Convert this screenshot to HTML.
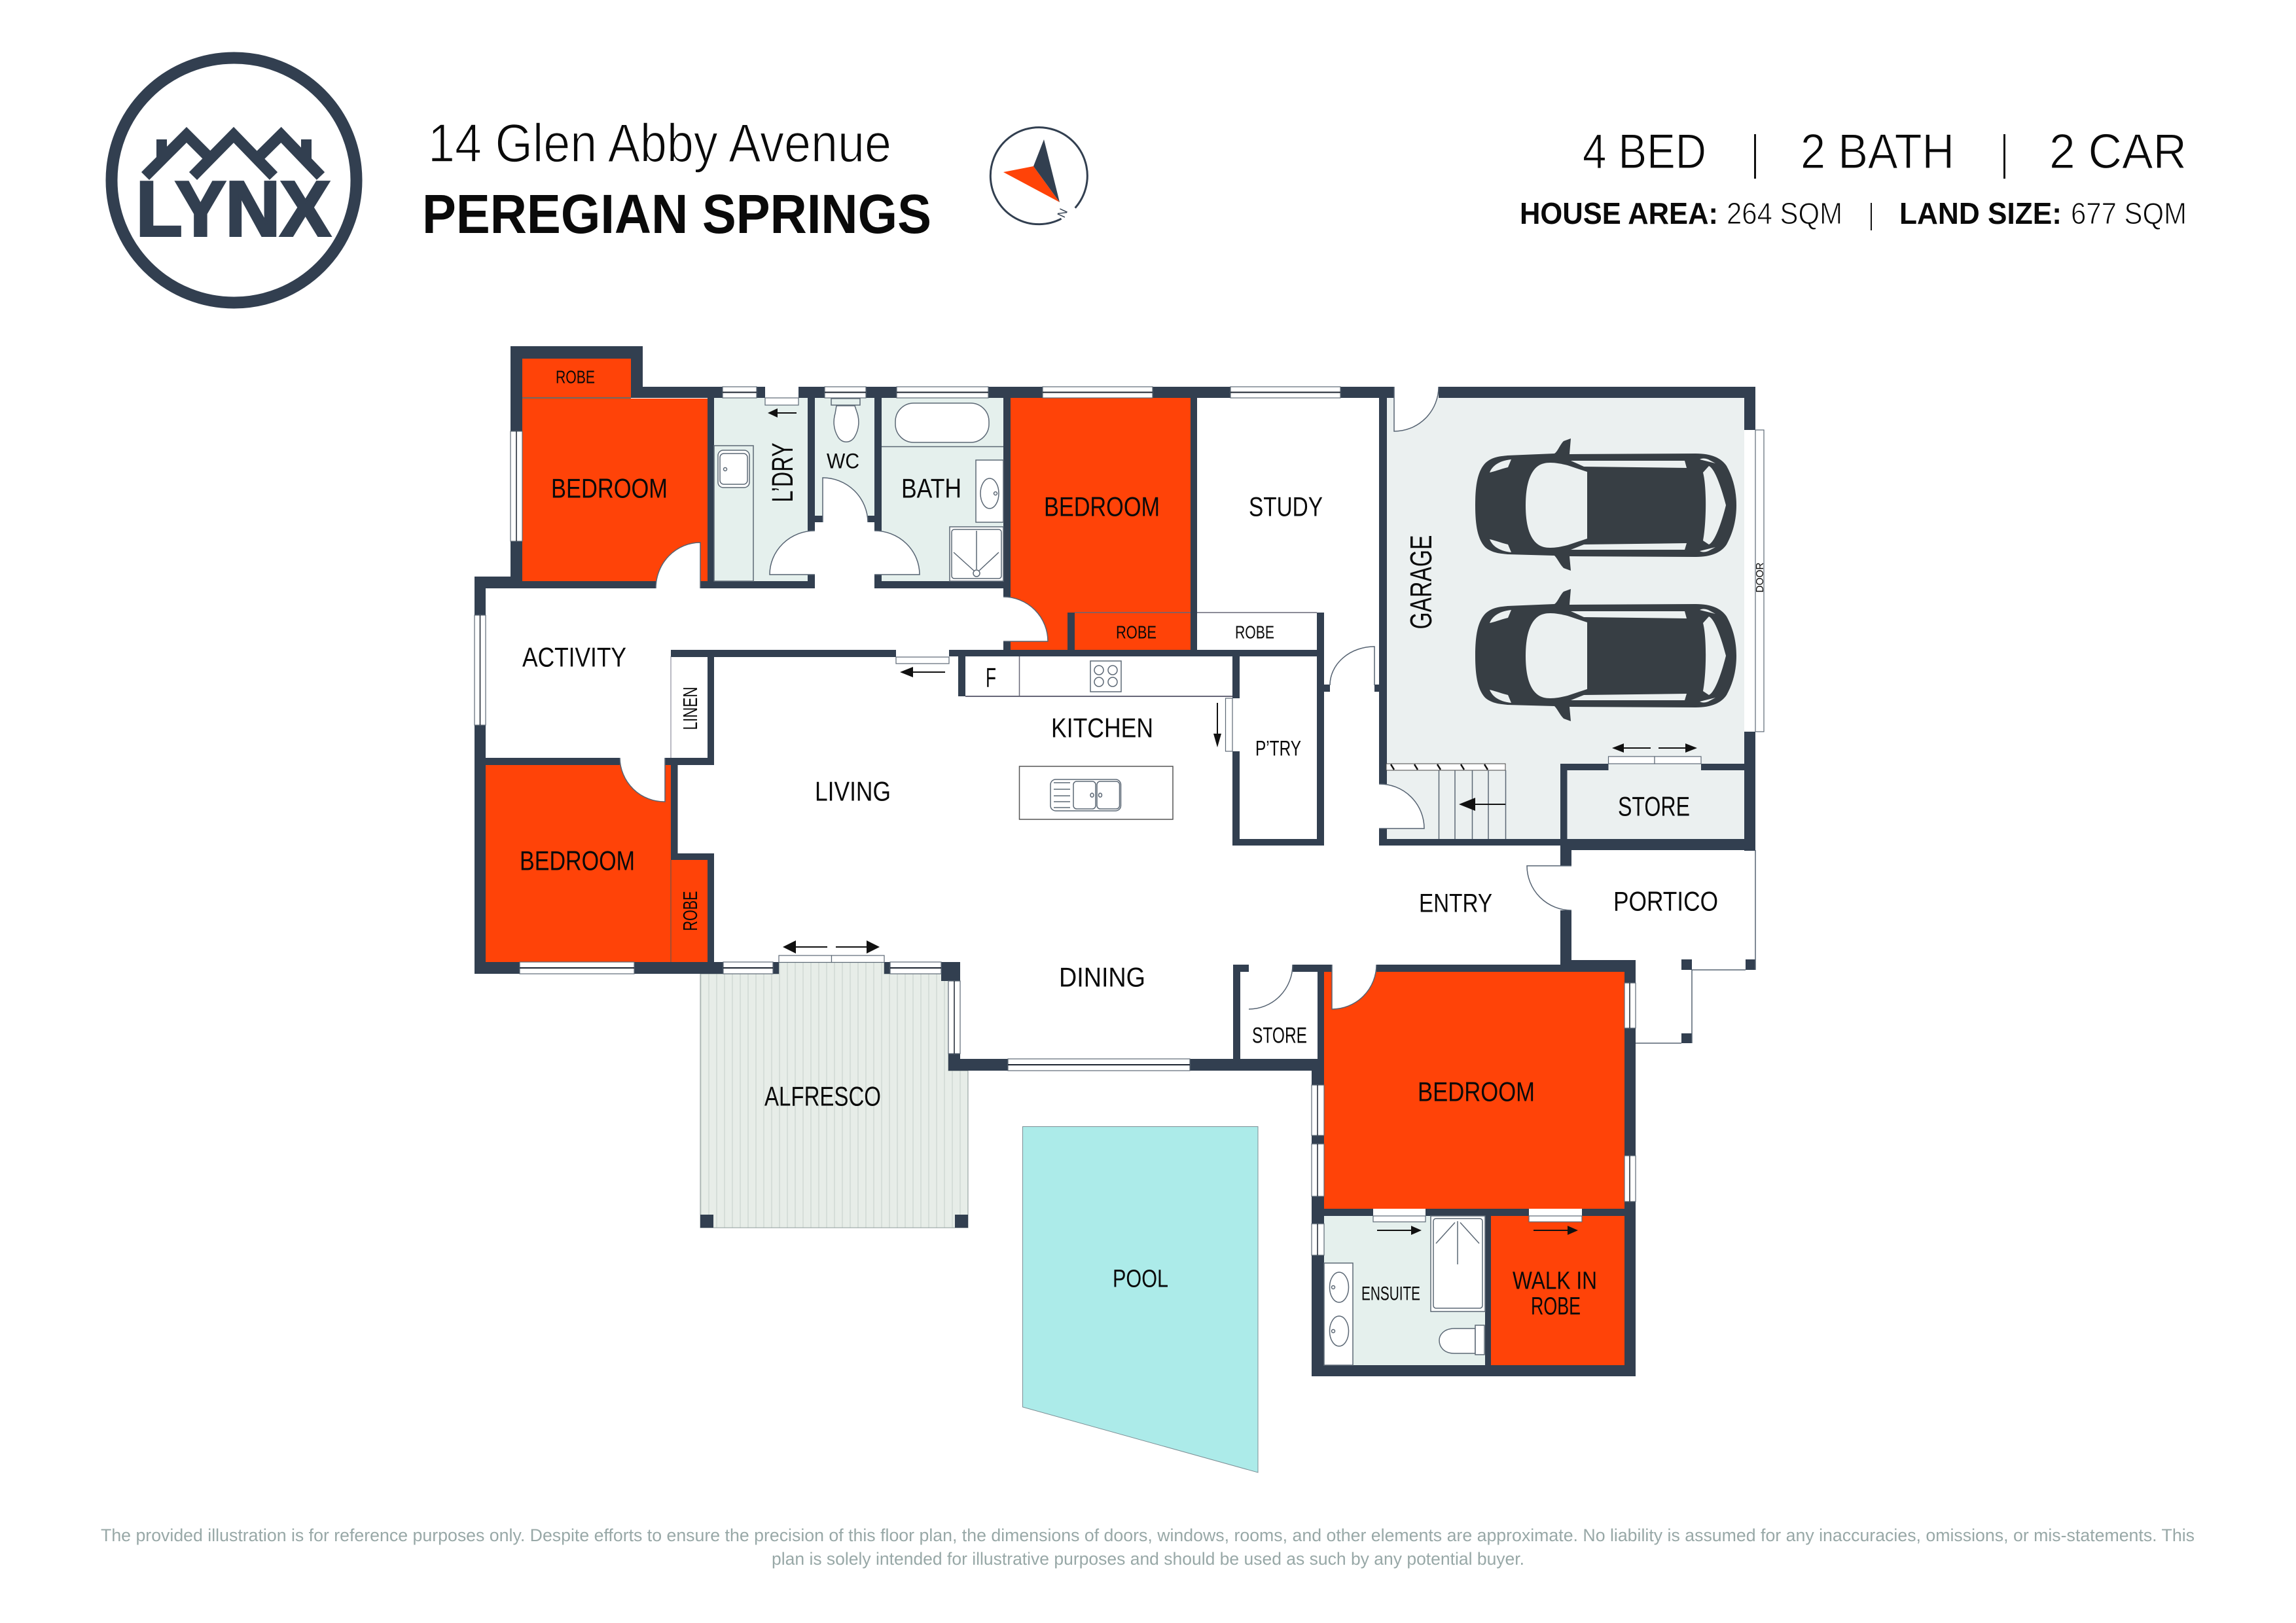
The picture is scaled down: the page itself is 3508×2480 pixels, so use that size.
<!DOCTYPE html>
<html lang="en"><head><meta charset="utf-8"><title>14 Glen Abby Avenue floor plan</title>
<style>
html,body{margin:0;padding:0;background:#fff}
svg{display:block}
text{font-family:"Liberation Sans",sans-serif;fill:#0a0a0a}
.w{fill:#323f50}
.o{fill:#ff4308}
.win{fill:#fff;stroke:#5c6875;stroke-width:1.2}
.c{stroke:#1c2430;stroke-width:2;fill:none}
.d{fill:#fff;stroke:#566372;stroke-width:1.5}
.t{fill:none;stroke:#5c6875;stroke-width:1.5}
.tw{fill:#fff;stroke:#5c6875;stroke-width:1.5}
.a{stroke:#111;stroke-width:2;fill:none}
</style></head><body>
<svg xmlns="http://www.w3.org/2000/svg" width="3508" height="2480" viewBox="0 0 3508 2480">
<defs>
<pattern id="deck" width="24" height="40" patternUnits="userSpaceOnUse">
<rect width="24" height="40" fill="#e7ede8"/>
<path d="M3 0V40M15 0V40" stroke="#cfd8d3" stroke-width="1.4"/>
</pattern>
<g id="car">
<path fill="#373e44" d="M2254 772C2254 740 2258 720 2269 708C2280 697 2296 697 2303 696L2375 693C2380 690 2383 680 2389 674L2400 670L2398 694L2591 693C2615 693 2630 700 2638 712C2648 730 2653 750 2653 772C2653 794 2648 814 2638 832C2630 844 2615 851 2591 851L2398 850L2400 872L2389 868C2383 862 2380 854 2375 849L2303 847C2296 846 2280 846 2269 836C2258 824 2254 804 2254 772Z"/>
<g fill="#ebf0f0">
<path d="M2425 721L2395 711C2375 706 2360 705 2350 712C2336 722 2331 745 2331 772C2331 800 2336 822 2350 832C2360 839 2375 838 2395 833L2425 823Z"/>
<path d="M2400 704L2574 704L2577 715L2420 713Z"/>
<path d="M2400 840L2574 840L2577 830L2420 832Z"/>
<path d="M2602 722L2611 712C2620 716 2630 745 2637 772C2630 800 2620 828 2611 832L2602 826C2607 800 2608 745 2602 722Z"/>
<path d="M2276 722C2280 712 2290 704 2309 702L2304 714C2295 716 2285 720 2276 722Z"/>
<path d="M2276 824C2280 834 2290 842 2309 844L2304 832C2295 830 2285 826 2276 824Z"/>
<path d="M2597 702L2621 708L2610 702C2605 700 2600 700 2597 702Z"/>
<path d="M2597 842L2621 836L2610 842C2605 844 2600 844 2597 842Z"/>
</g>
</g>
</defs>
<rect width="3508" height="2480" fill="#fff"/>

<!-- LOGO -->
<circle cx="357.5" cy="275.5" r="187" fill="none" stroke="#323f50" stroke-width="18"/>
<g fill="none" stroke="#323f50" stroke-width="17" stroke-linejoin="miter">
<path d="M222 269L285 206L325 246"/>
<path d="M295 269L357 206L418 269"/>
<path d="M389 246L429.5 206L490 269"/>
</g>
<rect x="239" y="213" width="16" height="30" fill="#323f50"/>
<rect x="460" y="213" width="16" height="30" fill="#323f50"/>
<text x="208" y="360" font-size="119" font-weight="700" textLength="297" lengthAdjust="spacingAndGlyphs" stroke="#323f50" stroke-width="4" style="fill:#323f50">LYNX</text>

<!-- HEADER TEXT -->
<text x="654" y="247" font-size="83" textLength="708" lengthAdjust="spacingAndGlyphs" stroke="#fff" stroke-width="1.6">14 Glen Abby Avenue</text>
<text x="645" y="356" font-size="84" font-weight="700" textLength="778" lengthAdjust="spacingAndGlyphs">PEREGIAN SPRINGS</text>

<!-- COMPASS -->
<path d="M1621.6 334.2A74 74 0 1 1 1642.7 317.7" fill="none" stroke="#323f50" stroke-width="3"/>
<polygon points="1533,263 1579,254 1619,309" fill="#ff4308"/>
<polygon points="1595,213 1579,254 1619,309" fill="#323f50"/>
<text x="0" y="0" font-size="18" transform="translate(1626 334) rotate(-65)" style="fill:#323f50">N</text>

<!-- RIGHT HEADER -->
<g font-size="75" stroke="#fff" stroke-width="1.2">
<text x="2418" y="257" textLength="189" lengthAdjust="spacingAndGlyphs">4 BED</text>
<text x="2751" y="257" textLength="235" lengthAdjust="spacingAndGlyphs">2 BATH</text>
<text x="3131" y="257" textLength="210" lengthAdjust="spacingAndGlyphs">2 CAR</text>
</g>
<rect x="2680" y="205" width="3" height="68" fill="#111"/>
<rect x="3061" y="205" width="3" height="68" fill="#111"/>
<text x="2322" y="342" font-size="46" font-weight="700" textLength="303" lengthAdjust="spacingAndGlyphs">HOUSE AREA:</text>
<text x="2638" y="342" font-size="46" textLength="177" lengthAdjust="spacingAndGlyphs" stroke="#fff" stroke-width="1">264 SQM</text>
<rect x="2858" y="310" width="2" height="42" fill="#111"/>
<text x="2902" y="342" font-size="46" font-weight="700" textLength="248" lengthAdjust="spacingAndGlyphs">LAND SIZE:</text>
<text x="3164" y="342" font-size="46" textLength="177" lengthAdjust="spacingAndGlyphs" stroke="#fff" stroke-width="1">677 SQM</text>

<!-- POOL + ALFRESCO -->
<polygon points="1562.5,1721.5 1922,1721.5 1922,2250 1562.5,2150" fill="#acebe9" stroke="#7d8f95" stroke-width="1"/>
<polygon points="1070,1488 1190,1488 1190,1470 1351,1470 1351,1488 1449,1488 1449,1636 1479,1636 1479,1876 1070,1876" fill="url(#deck)" stroke="#8c9a9a" stroke-width="1"/>

<!-- ROOM FILLS -->
<rect class="o" x="798" y="548" width="166" height="60"/>
<rect class="o" x="798" y="609" width="283" height="279"/>
<rect x="798" y="607" width="166" height="2" fill="#6d6a66"/>
<rect x="1091" y="608" width="143" height="280" fill="#e5f0ed"/>
<rect x="1245" y="608" width="91" height="190" fill="#e5f0ed"/>
<rect x="1347" y="608" width="186" height="280" fill="#e5f0ed"/>
<rect class="o" x="1544" y="608" width="275" height="386"/>
<rect x="2119" y="608" width="546" height="674" fill="#ebf0f0"/>
<rect class="o" x="742" y="1168" width="283" height="302"/>
<rect class="o" x="1025" y="1314" width="56" height="156"/>
<rect class="o" x="2023" y="1485" width="459" height="362"/>
<rect x="2023" y="1858" width="246" height="228" fill="#e5f0ed"/>
<rect class="o" x="2278" y="1858" width="204" height="228"/>

<!-- WALLS -->
<g class="w">
<rect x="780" y="529" width="202" height="19"/><rect x="780" y="529" width="18" height="130"/><rect x="780" y="827" width="18" height="72"/><rect x="964" y="529" width="18" height="79"/>
<rect x="982" y="591" width="122" height="17"/><rect x="1156" y="591" width="13" height="17"/><rect x="1220" y="591" width="40" height="17"/><rect x="1323" y="591" width="47" height="17"/><rect x="1510" y="591" width="83" height="17"/><rect x="1761" y="591" width="119" height="17"/><rect x="2048" y="591" width="82" height="17"/><rect x="2198" y="591" width="484" height="17"/>
<rect x="1081" y="591" width="10" height="308"/>
<rect x="1234" y="591" width="11" height="220"/><rect x="1234" y="878" width="11" height="21"/>
<rect x="1245" y="788" width="12" height="10"/><rect x="1326" y="788" width="10" height="10"/>
<rect x="1336" y="591" width="11" height="220"/><rect x="1336" y="878" width="11" height="21"/>
<rect x="1533" y="591" width="11" height="321"/><rect x="1533" y="980" width="11" height="13"/>
<rect x="1819" y="591" width="10" height="403"/>
<rect x="2107" y="591" width="12" height="607"/><rect x="2100" y="1046" width="8" height="11"/><rect x="2107" y="1266" width="12" height="26"/>
<rect x="780" y="888" width="222" height="11"/><rect x="1070" y="888" width="175" height="11"/><rect x="1336" y="888" width="197" height="11"/>
<rect x="725" y="881" width="73" height="18"/><rect x="725" y="881" width="17" height="59"/><rect x="725" y="1108" width="17" height="380"/>
<rect x="725" y="1158" width="222" height="11"/><rect x="1016" y="1158" width="75" height="11"/>
<rect x="1025" y="1168" width="10.5" height="136"/><rect x="1025" y="1304" width="66" height="10"/><rect x="1081" y="1304" width="10" height="170"/><rect x="1081" y="993" width="10" height="175"/>
<rect x="1025" y="993" width="344" height="11"/><rect x="1450" y="993" width="572" height="10"/>
<rect x="1464" y="1003" width="11" height="61"/>
<rect x="1631" y="936" width="11" height="58"/>
<rect x="2012" y="936" width="11" height="356"/><rect x="2023" y="1046" width="9" height="11"/>
<rect x="1883" y="1003" width="11" height="64"/><rect x="1883" y="1148" width="11" height="144"/><rect x="1883" y="1282" width="140" height="10"/>
<rect x="2107" y="1282" width="277" height="10"/>
<rect x="2384" y="1167" width="10.5" height="115"/><rect x="2384" y="1167" width="73.5" height="10"/><rect x="2599" y="1167" width="66" height="10"/>
<rect x="2384" y="1282" width="298" height="17"/>
<rect x="2665" y="591" width="17" height="66"/><rect x="2665" y="1118" width="17" height="182"/>
<rect x="2384" y="1299" width="17" height="24"/><rect x="2384" y="1391" width="17" height="76"/>
<rect x="2103" y="1474" width="281" height="11"/><rect x="2384" y="1467" width="115" height="18"/>
<rect x="2482" y="1467" width="17" height="35"/><rect x="2482" y="1571" width="17" height="195"/><rect x="2482" y="1836" width="17" height="267"/>
<rect x="2004" y="1618" width="19" height="40"/><rect x="2004" y="1735" width="19" height="13"/><rect x="2004" y="1828" width="19" height="42"/><rect x="2004" y="1918" width="19" height="185"/>
<rect x="2004" y="2086" width="495" height="17"/>
<rect x="2023" y="1847" width="75" height="11"/><rect x="2178" y="1847" width="158" height="11"/><rect x="2417" y="1847" width="65" height="11"/>
<rect x="2269" y="1858" width="9" height="228"/>
<rect x="1884" y="1474" width="11" height="144"/><rect x="1884" y="1474" width="24" height="11"/><rect x="1975" y="1474" width="60" height="11"/><rect x="2013" y="1474" width="10" height="144"/>
<rect x="1449" y="1618" width="91" height="18"/><rect x="1818" y="1618" width="205" height="18"/>
<rect x="1449" y="1610" width="18" height="26"/><rect x="1438" y="1470" width="29" height="29"/>
<rect x="725" y="1470" width="69" height="18"/><rect x="969" y="1470" width="136" height="18"/>
<rect x="1181" y="1470" width="9" height="18"/><rect x="1351" y="1470" width="9" height="18"/>
<rect x="1070" y="1856" width="20" height="20"/><rect x="1459" y="1856" width="20" height="20"/>
<rect x="2569" y="1466" width="16" height="16"/><rect x="2667" y="1466" width="15" height="16"/><rect x="2569" y="1579" width="16" height="15"/>
</g>

<!-- PORTICO LINES -->
<path d="M2682 1299V1482M2585 1482H2667M2585 1482V1594M2499 1594H2569" stroke="#566372" stroke-width="1.5" fill="none"/>

<!-- WINDOWS -->
<g class="win">
<rect x="1104" y="591" width="52" height="17"/><rect x="1260" y="591" width="63" height="17"/><rect x="1370" y="591" width="140" height="17"/><rect x="1593" y="591" width="168" height="17"/><rect x="1880" y="591" width="168" height="17"/>
<rect x="794" y="1470" width="175" height="18"/><rect x="1105" y="1470" width="76" height="18"/><rect x="1360" y="1470" width="78" height="18"/><rect x="1540" y="1618" width="278" height="18"/>
<rect x="780" y="659" width="18" height="168"/><rect x="725" y="940" width="17" height="168"/><rect x="1449" y="1499" width="18" height="111"/>
<rect x="2482" y="1502" width="17" height="69"/><rect x="2482" y="1766" width="17" height="70"/>
<rect x="2004" y="1658" width="19" height="77"/><rect x="2004" y="1748" width="19" height="80"/><rect x="2004" y="1870" width="19" height="48"/>
</g>
<g class="c">
<path d="M1104 599.5H1156M1260 599.5H1323M1370 599.5H1510M1593 599.5H1761M1880 599.5H2048M794 1479H969M1105 1479H1181M1360 1479H1438M1540 1627H1818"/>
<path d="M789 659V827M733.5 940V1108M1458 1499V1610M2490 1502V1571M2490 1766V1836M2013 1658V1735M2013 1748V1828M2013 1870V1918" stroke-width="1.5"/>
</g>
<!-- Sliding panels -->
<g class="win" stroke="#333">
<rect x="1169" y="608" width="51" height="11"/><rect x="1369" y="1004" width="81" height="10"/><rect x="1872.5" y="1067" width="10.5" height="81"/>
<rect x="1190" y="1460" width="80.5" height="10.5"/><rect x="1270.5" y="1460" width="80.5" height="10.5"/>
<rect x="2457.5" y="1156" width="70.5" height="11"/><rect x="2528" y="1156" width="71" height="11"/>
<rect x="2098" y="1858" width="80" height="9"/><rect x="2336" y="1858" width="81" height="9"/>
<rect x="2682" y="657" width="13" height="461"/>
</g>

<!-- HALL OPENING -->
<rect x="1245" y="798" width="91" height="101" fill="#fff"/>

<!-- DOOR SWINGS (open paths: fill closes implicitly, stroke only on leaf and arc) -->
<g class="d">
<path d="M1070 899V829A68 70 0 0 0 1002 899"/>
<path d="M1257 798V730A69 69 0 0 1 1326 798"/>
<path d="M1245 878H1176A69 67 0 0 1 1245 811"/>
<path d="M1336 878H1405A69 67 0 0 0 1336 811"/>
<path d="M1533 980H1601A68 68 0 0 0 1533 912"/>
<path d="M2130 591V659A68 68 0 0 0 2198 591"/>
<path d="M2100 1047V988A68 59 0 0 0 2032 1047"/>
<path d="M2107 1266H2176A68 68 0 0 0 2107 1198"/>
<path d="M2401 1323H2333A68 68 0 0 0 2401 1391"/>
<path d="M1016 1158V1225A68 68 0 0 1 947 1158"/>
<path d="M1975 1474A67 68 0 0 1 1908 1542" fill="none"/>
<path d="M2035 1474V1542A68 68 0 0 0 2103 1474"/>
</g>

<!-- LAUNDRY -->
<rect class="t" x="1091" y="681" width="60" height="207"/>
<rect class="tw" x="1097" y="688" width="48" height="57" rx="8"/>
<rect class="tw" x="1100" y="693" width="42" height="47" rx="6"/>
<circle class="t" cx="1108" cy="717" r="2.5"/>
<!-- WC -->
<rect class="t" x="1270" y="609" width="44" height="10" fill="#e5f0ed"/>
<path class="tw" d="M1278 620H1306L1310 632C1313 642 1313 655 1306 667C1300 678 1286 678 1280 667C1273 655 1273 642 1276 632Z"/>
<!-- BATH -->
<rect class="tw" x="1368" y="616" width="143" height="60" rx="28"/>
<path class="t" d="M1347 682.5H1533"/>
<rect class="tw" x="1491" y="703" width="42" height="95"/>
<ellipse class="t" cx="1512" cy="754" rx="14" ry="23"/>
<circle class="t" cx="1521" cy="754" r="2.5"/>
<rect class="tw" x="1451" y="805" width="82" height="83"/>
<rect class="t" x="1454" y="809" width="76" height="75" rx="4"/>
<path class="t" d="M1492 811V870M1457 844L1488 872M1526 844L1496 872"/>
<ellipse class="t" cx="1492" cy="876" rx="5" ry="5"/>
<!-- KITCHEN -->
<path d="M1475 1064H1883" stroke="#667" stroke-width="2"/>
<path d="M1557.5 1003V1064" stroke="#667" stroke-width="1.5"/>
<rect class="t" x="1666" y="1010" width="47" height="47"/>
<g class="t"><circle cx="1679" cy="1024" r="7"/><circle cx="1700" cy="1024" r="7"/><circle cx="1679" cy="1042" r="7"/><circle cx="1700" cy="1042" r="7"/></g>
<rect x="1557.5" y="1171" width="234.5" height="81" fill="#fff" stroke="#555" stroke-width="1.5"/>
<rect class="t" x="1605" y="1191" width="107.5" height="48" rx="8"/>
<rect class="t" x="1640" y="1194" width="34" height="42" rx="5"/>
<rect class="t" x="1676" y="1194" width="34.5" height="42" rx="5"/>
<path class="t" d="M1610 1196H1635M1610 1206H1635M1610 1216H1635M1610 1225H1635M1610 1234H1635"/>
<ellipse class="t" cx="1668.5" cy="1215" rx="2.5" ry="3"/><ellipse class="t" cx="1681" cy="1215" rx="2.5" ry="3"/>
<!-- LINEN -->
<path d="M1025 1003V1158" stroke="#778" stroke-width="1"/>
<path d="M1025 1314V1470" stroke="#555" stroke-width="1"/>
<path d="M1642 936H1819M1829 936H2012" stroke="#667" stroke-width="1.5"/>
<!-- STAIRS -->
<rect x="2118" y="1167" width="182" height="10" fill="#fff" stroke="#444" stroke-width="1"/>
<path d="M2125 1168L2130 1176M2161 1168L2166 1176M2196 1168L2201 1176M2232 1168L2237 1176M2268 1168L2273 1176" stroke="#111" stroke-width="2.5" fill="none"/>
<path d="M2198.5 1177V1282M2223 1177V1282M2249.5 1177V1282M2274 1177V1282M2300.5 1177V1282" stroke="#5c6875" stroke-width="1.5"/>
<!-- ENSUITE fixtures -->
<rect class="tw" x="2186" y="1858" width="83" height="146"/>
<rect class="t" x="2190" y="1862" width="75" height="137" rx="4"/>
<path class="t" d="M2227 1866V1932M2194 1900L2223 1868M2260 1900L2231 1868"/>
<rect class="tw" x="2023" y="1930" width="44" height="156"/>
<ellipse class="t" cx="2046" cy="1967" rx="14.5" ry="23"/>
<ellipse class="t" cx="2046" cy="2034" rx="14.5" ry="23"/>
<circle class="t" cx="2037" cy="1967" r="2.5"/><circle class="t" cx="2037" cy="2034" r="2.5"/>
<path class="tw" d="M2254 2030H2222C2206 2030 2199 2040 2199 2048C2199 2058 2206 2068 2222 2068H2254Z"/>
<rect class="tw" x="2254" y="2025" width="14" height="45"/>

<!-- CARS -->
<use href="#car"/><use href="#car" y="230"/>

<!-- ARROWS -->
<g class="a">
<path d="M1180 631H1217"/><path d="M1385 1027H1444"/><path d="M1860 1074V1130"/>
<path d="M1206 1447H1264"/><path d="M1277 1447H1334"/>
<path d="M2475 1143H2522"/><path d="M2534 1143H2582"/>
<path d="M2240 1229H2300"/>
<path d="M2104 1880H2165"/><path d="M2343 1880H2404"/>
</g>
<g fill="#111">
<polygon points="1173,631 1188,624 1188,638"/>
<polygon points="1375,1027 1395,1019 1395,1035"/>
<polygon points="1860,1142 1854,1121 1866,1121"/>
<polygon points="1196,1447 1216,1437 1216,1457"/>
<polygon points="1344,1447 1324,1437 1324,1457"/>
<polygon points="2463,1143 2481,1136 2481,1150"/>
<polygon points="2593,1143 2575,1136 2575,1150"/>
<polygon points="2229,1229 2254,1219 2254,1239"/>
<polygon points="2172,1880 2156,1873 2156,1887"/>
<polygon points="2411,1880 2395,1873 2395,1887"/>
</g>

<!-- LABELS -->
<g transform="translate(0 -1.5)">
<text x="842" y="762" font-size="42" textLength="178" lengthAdjust="spacingAndGlyphs">BEDROOM</text>
<text x="849" y="587" font-size="28" textLength="60" lengthAdjust="spacingAndGlyphs">ROBE</text>
<text transform="translate(1211 769) rotate(-90)" font-size="45" textLength="91" lengthAdjust="spacingAndGlyphs">L’DRY</text>
<text x="1263" y="717" font-size="32" textLength="50" lengthAdjust="spacingAndGlyphs">WC</text>
<text x="1377" y="762" font-size="42" textLength="92" lengthAdjust="spacingAndGlyphs">BATH</text>
<text x="1595" y="790" font-size="42" textLength="177" lengthAdjust="spacingAndGlyphs">BEDROOM</text>
<text x="1908" y="790" font-size="42" textLength="113" lengthAdjust="spacingAndGlyphs">STUDY</text>
<text x="1705" y="977" font-size="28" textLength="62" lengthAdjust="spacingAndGlyphs">ROBE</text>
<text x="1887" y="977" font-size="28" textLength="60" lengthAdjust="spacingAndGlyphs">ROBE</text>
<text transform="translate(2187 963) rotate(-90)" font-size="46" textLength="144" lengthAdjust="spacingAndGlyphs">GARAGE</text>
<text transform="translate(2694 907) rotate(-90)" font-size="16" textLength="46" lengthAdjust="spacingAndGlyphs">DOOR</text>
<text x="798" y="1020" font-size="42" textLength="159" lengthAdjust="spacingAndGlyphs">ACTIVITY</text>
<text transform="translate(1065 1117) rotate(-90)" font-size="31" textLength="66" lengthAdjust="spacingAndGlyphs">LINEN</text>
<text transform="translate(1065 1424) rotate(-90)" font-size="31" textLength="61" lengthAdjust="spacingAndGlyphs">ROBE</text>
<text x="1506" y="1051" font-size="42" textLength="16" lengthAdjust="spacingAndGlyphs">F</text>
<text x="1606" y="1128" font-size="42" textLength="156" lengthAdjust="spacingAndGlyphs">KITCHEN</text>
<text x="1918" y="1156" font-size="32" textLength="70" lengthAdjust="spacingAndGlyphs">P’TRY</text>
<text x="2168" y="1395" font-size="40" textLength="112" lengthAdjust="spacingAndGlyphs">ENTRY</text>
<text x="2472" y="1248" font-size="42" textLength="110" lengthAdjust="spacingAndGlyphs">STORE</text>
<text x="2465" y="1393" font-size="42" textLength="160" lengthAdjust="spacingAndGlyphs">PORTICO</text>
<text x="1245" y="1225" font-size="42" textLength="116" lengthAdjust="spacingAndGlyphs">LIVING</text>
<text x="794" y="1331" font-size="42" textLength="176" lengthAdjust="spacingAndGlyphs">BEDROOM</text>
<text x="1618" y="1509" font-size="42" textLength="132" lengthAdjust="spacingAndGlyphs">DINING</text>
<text x="1913" y="1595" font-size="34" textLength="84" lengthAdjust="spacingAndGlyphs">STORE</text>
<text x="1168" y="1691" font-size="42" textLength="178" lengthAdjust="spacingAndGlyphs">ALFRESCO</text>
<text x="1700" y="1968" font-size="38" textLength="85" lengthAdjust="spacingAndGlyphs">POOL</text>
<text x="2166" y="1684" font-size="42" textLength="179" lengthAdjust="spacingAndGlyphs">BEDROOM</text>
<text x="2311" y="1971" font-size="38" textLength="129" lengthAdjust="spacingAndGlyphs">WALK IN</text>
<text x="2339" y="2010" font-size="38" textLength="76" lengthAdjust="spacingAndGlyphs">ROBE</text>
<text x="2080" y="1988" font-size="30" textLength="90" lengthAdjust="spacingAndGlyphs">ENSUITE</text>
</g>

<!-- FOOTER -->
<g font-size="27">
<text x="154" y="2355" style="fill:#98a8a7" textLength="3199" lengthAdjust="spacingAndGlyphs">The provided illustration is for reference purposes only. Despite efforts to ensure the precision of this floor plan, the dimensions of doors, windows, rooms, and other elements are approximate. No liability is assumed for any inaccuracies, omissions, or mis-statements. This</text>
<text x="1179" y="2391" style="fill:#98a8a7" textLength="1150" lengthAdjust="spacingAndGlyphs">plan is solely intended for illustrative purposes and should be used as such by any potential buyer.</text>
</g>
</svg>
</body></html>
